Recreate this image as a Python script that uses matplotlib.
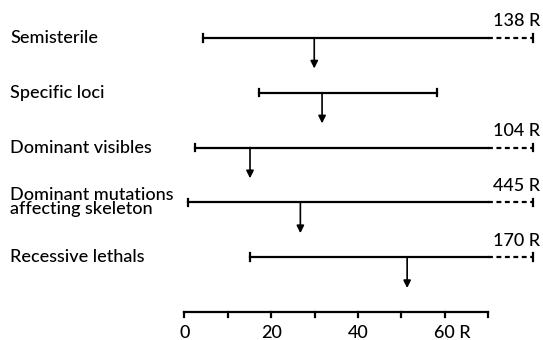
import matplotlib
matplotlib.use("Agg")
import matplotlib.pyplot as plt

plt.rcParams['font.family'] = ['Lato', 'DejaVu Sans']

# data (dose in R)
effects = ["Semisterile", "Specific loci", "Dominant visibles",
           "Dominant mutations\naffecting skeleton", "Recessive lethals"]
low = [4.2, 17.2, 2.4, 0.9, 15.1]
high = [138, 58.2, 104, 445, 170]
best = [29.9, 31.7, 15.1, 26.7, 51.3]
axis_ticks = [0, 10, 20, 30, 40, 50, 60, 70]
axis_labels = {0: "0", 20: "20", 40: "40", 60: "60 R"}

scale_end = 70      # end of the drawn scale
dash_end = 80.4     # where the broken (off-scale) part stops

fig = plt.figure(figsize=(5.43, 3.40), dpi=100)
ax = fig.add_axes([0, 0, 1, 1])
ax.set_xlim(-42.5, 82.6)
ax.set_ylim(5.506, -0.687)
ax.axis("off")

lw = 1.6
fs = 13
for i, name in enumerate(effects):
    lo, hi, b = low[i], high[i], best[i]
    ax.text(-40.2, i, name, ha="left", va="center", fontsize=fs,
            linespacing=0.85, fontweight="medium")
    if hi > scale_end:
        ax.plot([lo, scale_end], [i, i], color="black", lw=lw)
        ax.plot([scale_end, dash_end], [i, i], color="black", lw=lw,
                ls=(0, (2.2, 1.6)))
        ax.plot([dash_end, dash_end], [i - 0.07, i + 0.07], color="black", lw=lw)
        ax.text(dash_end + 1.5, i - 0.15, f"{hi:g} R", ha="right", va="bottom",
                fontsize=fs, fontweight="medium")
    else:
        ax.plot([lo, hi], [i, i], color="black", lw=lw)
        ax.plot([hi, hi], [i - 0.07, i + 0.07], color="black", lw=lw)
    ax.plot([lo, lo], [i - 0.07, i + 0.07], color="black", lw=lw)
    ax.annotate("", xy=(b, i + 0.56), xytext=(b, i),
                arrowprops=dict(arrowstyle="-|>", color="black", lw=1.2,
                                mutation_scale=11, shrinkA=0, shrinkB=0))

# dose scale at the bottom
ya = len(effects)
ax.plot([axis_ticks[0], axis_ticks[-1]], [ya, ya], color="black", lw=lw)
for t in axis_ticks:
    ax.plot([t, t], [ya, ya + 0.09], color="black", lw=lw)
    if t in axis_labels:
        lab = axis_labels[t]
        off = 1.6 if lab.endswith("R") else 0
        ax.text(t + off, ya + 0.38, lab, ha="center", va="center",
                fontsize=fs, fontweight="medium")

fig.savefig("out.png", dpi=100)
